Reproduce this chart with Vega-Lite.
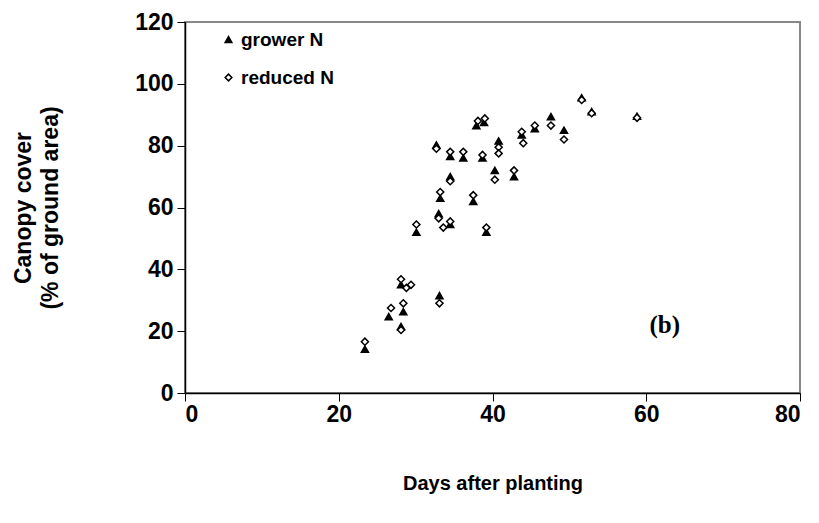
{
  "$schema": "https://vega.github.io/schema/vega-lite/v6.json",
  "autosize": "none",
  "width": 615,
  "height": 371,
  "padding": {"left": 185, "top": 22, "right": 19, "bottom": 130},
  "background": "white",
  "config": {
    "view": {"stroke": "#888888", "strokeWidth": 2},
    "font": "Liberation Sans"
  },
  "datasets": {
    "pts": [
      {"day": 23.4, "cover": 14.2, "treatment": "grower N"},
      {"day": 26.5, "cover": 24.7, "treatment": "grower N"},
      {"day": 28.1, "cover": 21.5, "treatment": "grower N"},
      {"day": 28.4, "cover": 26.3, "treatment": "grower N"},
      {"day": 28.1, "cover": 35, "treatment": "grower N"},
      {"day": 30.1, "cover": 52, "treatment": "grower N"},
      {"day": 32.7, "cover": 80.2, "treatment": "grower N"},
      {"day": 33.2, "cover": 63, "treatment": "grower N"},
      {"day": 33.0, "cover": 58, "treatment": "grower N"},
      {"day": 34.5, "cover": 54.5, "treatment": "grower N"},
      {"day": 33.1, "cover": 31.5, "treatment": "grower N"},
      {"day": 34.5, "cover": 76.5, "treatment": "grower N"},
      {"day": 34.5, "cover": 70, "treatment": "grower N"},
      {"day": 36.2, "cover": 76, "treatment": "grower N"},
      {"day": 37.5, "cover": 62, "treatment": "grower N"},
      {"day": 37.9, "cover": 86.5, "treatment": "grower N"},
      {"day": 38.9, "cover": 87.5, "treatment": "grower N"},
      {"day": 38.7, "cover": 76, "treatment": "grower N"},
      {"day": 39.2, "cover": 52, "treatment": "grower N"},
      {"day": 40.3, "cover": 72, "treatment": "grower N"},
      {"day": 40.8, "cover": 81.5, "treatment": "grower N"},
      {"day": 42.8, "cover": 70, "treatment": "grower N"},
      {"day": 43.8, "cover": 83.5, "treatment": "grower N"},
      {"day": 45.5, "cover": 85.5, "treatment": "grower N"},
      {"day": 47.6, "cover": 89.4, "treatment": "grower N"},
      {"day": 49.3, "cover": 85, "treatment": "grower N"},
      {"day": 51.6, "cover": 95.5, "treatment": "grower N"},
      {"day": 52.9, "cover": 91, "treatment": "grower N"},
      {"day": 58.8, "cover": 89.5, "treatment": "grower N"},
      {"day": 23.4, "cover": 16.6, "treatment": "reduced N"},
      {"day": 26.8, "cover": 27.5, "treatment": "reduced N"},
      {"day": 28.1, "cover": 20.4, "treatment": "reduced N"},
      {"day": 28.4, "cover": 29, "treatment": "reduced N"},
      {"day": 28.1, "cover": 36.8, "treatment": "reduced N"},
      {"day": 28.8, "cover": 34, "treatment": "reduced N"},
      {"day": 29.4, "cover": 35, "treatment": "reduced N"},
      {"day": 30.1, "cover": 54.5, "treatment": "reduced N"},
      {"day": 32.7, "cover": 79, "treatment": "reduced N"},
      {"day": 33.2, "cover": 65, "treatment": "reduced N"},
      {"day": 33.0, "cover": 56.5, "treatment": "reduced N"},
      {"day": 33.6, "cover": 53.5, "treatment": "reduced N"},
      {"day": 34.5, "cover": 55.5, "treatment": "reduced N"},
      {"day": 33.1, "cover": 29, "treatment": "reduced N"},
      {"day": 34.5, "cover": 78, "treatment": "reduced N"},
      {"day": 34.5, "cover": 68.5, "treatment": "reduced N"},
      {"day": 36.2, "cover": 78, "treatment": "reduced N"},
      {"day": 37.5, "cover": 64, "treatment": "reduced N"},
      {"day": 38.1, "cover": 88, "treatment": "reduced N"},
      {"day": 39.0, "cover": 88.8, "treatment": "reduced N"},
      {"day": 38.7, "cover": 77, "treatment": "reduced N"},
      {"day": 39.2, "cover": 53.5, "treatment": "reduced N"},
      {"day": 40.3, "cover": 69, "treatment": "reduced N"},
      {"day": 40.8, "cover": 79.5, "treatment": "reduced N"},
      {"day": 40.8, "cover": 77.5, "treatment": "reduced N"},
      {"day": 42.8, "cover": 72, "treatment": "reduced N"},
      {"day": 43.8, "cover": 84.5, "treatment": "reduced N"},
      {"day": 44.0, "cover": 80.8, "treatment": "reduced N"},
      {"day": 45.5, "cover": 86.5, "treatment": "reduced N"},
      {"day": 47.6, "cover": 86.5, "treatment": "reduced N"},
      {"day": 49.3, "cover": 82, "treatment": "reduced N"},
      {"day": 51.6, "cover": 94.8, "treatment": "reduced N"},
      {"day": 52.9, "cover": 90.5, "treatment": "reduced N"},
      {"day": 58.8, "cover": 89, "treatment": "reduced N"}
    ],
    "label": [{"tag": "(b)"}]
  },
  "layer": [
    {
      "data": {"name": "pts"},
      "mark": {"type": "point", "filled": true, "stroke": "black", "strokeWidth": 1.5, "size": 50, "opacity": 1},
      "encoding": {
        "x": {
          "field": "day", "type": "quantitative",
          "scale": {"domain": [0, 80], "nice": false, "zero": false},
          "axis": {
            "values": [0, 20, 40, 60, 80], "grid": false, "title": "Days after planting",
            "titleFont": "Liberation Sans", "titleFontSize": 20, "titleFontWeight": "bold", "titleColor": "black",
            "titlePadding": 47,
            "labelFont": "Liberation Sans", "labelFontSize": 23, "labelFontWeight": "bold", "labelColor": "black",
            "labelPadding": 2, "tickSize": 8, "tickColor": "black", "domainColor": "black", "domainWidth": 1.5, "tickWidth": 1
          }
        },
        "y": {
          "field": "cover", "type": "quantitative",
          "scale": {"domain": [0, 120], "nice": false},
          "axis": {
            "values": [0, 20, 40, 60, 80, 100, 120], "grid": false,
            "title": ["Canopy cover", "(% of ground area)"],
            "titleFont": "Liberation Sans", "titleFontSize": 23, "titleFontWeight": "bold", "titleColor": "black",
            "titlePadding": 72, "titleLineHeight": 27,
            "labelFont": "Liberation Sans", "labelFontSize": 23, "labelFontWeight": "bold", "labelColor": "black",
            "labelPadding": 4, "tickSize": 8, "tickColor": "black", "domainColor": "black", "domainWidth": 1.5, "tickWidth": 1
          }
        },
        "shape": {
          "field": "treatment", "type": "nominal",
          "scale": {"domain": ["grower N", "reduced N"], "range": ["triangle-up", "diamond"]},
          "legend": {
            "title": null, "orient": "none", "legendX": 34, "legendY": 8,
            "labelFont": "Liberation Sans", "labelFontSize": 19, "labelFontWeight": "bold", "labelColor": "black",
            "rowPadding": 18, "symbolSize": 45, "symbolStrokeWidth": 1.5, "labelOffset": 3
          }
        },
        "fill": {
          "field": "treatment", "type": "nominal",
          "scale": {"domain": ["grower N", "reduced N"], "range": ["black", "white"]},
          "legend": null
        }
      }
    },
    {
      "data": {"name": "label"},
      "mark": {"type": "text", "font": "Liberation Serif", "fontSize": 25, "fontWeight": "bold", "color": "black"},
      "encoding": {
        "x": {"datum": 62.4},
        "y": {"datum": 22},
        "text": {"field": "tag", "type": "nominal"}
      }
    }
  ]
}
